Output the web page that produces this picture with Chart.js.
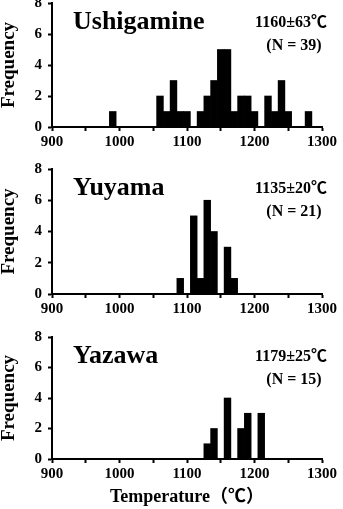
<!DOCTYPE html>
<html>
<head>
<meta charset="utf-8">
<script src="https://cdn.jsdelivr.net/npm/chart.js@4.4.1/dist/chart.umd.min.js"></script>
<style>
    html, body { margin: 0; padding: 0; background: #fff; overflow: hidden; }
    #wrap { position: relative; width: 343px; height: 509px; overflow: hidden; }
    canvas { position: absolute; left: 0; }
</style>
</head>
<body>
<div id="wrap">
    <canvas id="chartUshigamine" width="343" height="161" style="top:-12px"></canvas>
    <canvas id="chartYuyama" width="343" height="162" style="top:154px"></canvas>
    <canvas id="chartYazawa" width="343" height="187" style="top:322px"></canvas>
</div>
<script>
// ================= DATOS =================
const ushigamineBins   = [990, 1000, 1010, 1020, 1030, 1040, 1050, 1060, 1070, 1080, 1090, 1100, 1110, 1120, 1130,
                          1140, 1150, 1160, 1170, 1180, 1190, 1200, 1210, 1220, 1230, 1240, 1250, 1260, 1270, 1280];
const ushigamineCounts = [1, 0, 0, 0, 0, 0, 0, 2, 1, 3, 1, 1, 0, 1, 2,
                          3, 5, 5, 1, 2, 2, 1, 0, 2, 1, 3, 1, 0, 0, 1];

const yuyamaBins   = [1090, 1100, 1110, 1120, 1130, 1140, 1150, 1160, 1170];
const yuyamaCounts = [1, 0, 5, 1, 6, 4, 0, 3, 1];

const yazawaBins   = [1130, 1140, 1150, 1160, 1170, 1180, 1190, 1200, 1210];
const yazawaCounts = [1, 2, 0, 4, 0, 2, 3, 0, 3];

const siteNames  = ['Ushigamine', 'Yuyama', 'Yazawa'];
const siteMeans  = ['1160±63℃', '1135±20℃', '1179±25℃'];
const siteN      = ['(N = 39)', '(N = 21)', '(N = 15)'];

const xTitle = 'Temperature（℃）';
const yTitle = 'Frequency';

const SERIF = '"Liberation Serif", "Times New Roman", "Noto Sans CJK JP", serif';
let charts = {};

// ================= ETIQUETAS =================
function siteLabelPlugin(name, mean, n) {
    return {
        id: 'siteLabel',
        afterDraw(chart) {
            const { ctx, chartArea } = chart;
            ctx.save();
            ctx.fillStyle = '#000';
            ctx.font = 'bold 26px ' + SERIF;
            ctx.textAlign = 'left';
            ctx.textBaseline = 'alphabetic';
            ctx.fillText(name, chartArea.left + 21, chartArea.top + 26);

            ctx.font = 'bold 16px ' + SERIF;
            ctx.textAlign = 'center';
            ctx.textBaseline = 'middle';
            ctx.fillText(mean, 291, chartArea.top + 20);
            ctx.fillText(n, 294, chartArea.top + 43);
            ctx.restore();
        }
    };
}

// ================= HISTOGRAMA =================
function createHistogram(id, bins, counts, idx, showTitle) {
    const ctx = document.getElementById(id);
    if (!ctx) return;

    charts[id] = new Chart(ctx, {
        type: 'bar',
        data: {
            datasets: [{
                data: bins.map((b, i) => ({ x: b, y: counts[i] })),
                backgroundColor: '#000',
                borderWidth: 0,
                barPercentage: 1,
                categoryPercentage: 1
            }]
        },
        options: {
            responsive: false,
            animation: false,
            layout: { padding: { top: 12, right: 21, bottom: 0, left: 0 } },
            plugins: {
                legend: { display: false },
                tooltip: { enabled: false }
            },
            scales: {
                x: {
                    type: 'linear',
                    min: 900,
                    max: 1300,
                    offset: false,
                    grid: {
                        offset: false,
                        drawOnChartArea: false,
                        drawTicks: true,
                        tickLength: 4,
                        tickWidth: 2,
                        tickColor: '#000'
                    },
                    border: { display: true, color: '#000', width: 2 },
                    ticks: {
                        stepSize: 50,
                        autoSkip: false,
                        maxRotation: 0,
                        padding: 2,
                        color: '#000',
                        font: { family: SERIF, size: 15, weight: 'bold' },
                        callback: v => (v % 100 === 0 ? String(v) : '')
                    },
                    title: {
                        display: showTitle,
                        text: xTitle,
                        color: '#000',
                        padding: { top: 0, bottom: 1 },
                        font: { family: SERIF, size: 18, weight: 'bold' }
                    },
                    afterFit: s => { s.height = showTitle ? 50 : 22; }
                },
                y: {
                    min: 0,
                    max: 8,
                    grid: {
                        drawOnChartArea: false,
                        drawTicks: true,
                        tickLength: 4,
                        tickWidth: 2,
                        tickColor: '#000'
                    },
                    border: { display: true, color: '#000', width: 2 },
                    ticks: {
                        stepSize: 2,
                        padding: 6,
                        color: '#000',
                        font: { family: SERIF, size: 15, weight: 'bold' }
                    },
                    title: {
                        display: true,
                        text: yTitle,
                        color: '#000',
                        padding: { top: -2, bottom: 0 },
                        font: { family: SERIF, size: 19, weight: 'bold' }
                    },
                    afterFit: s => { s.width = 52; }
                }
            }
        },
        plugins: [siteLabelPlugin(siteNames[idx], siteMeans[idx], siteN[idx])]
    });
}

createHistogram('chartUshigamine', ushigamineBins, ushigamineCounts, 0, false);
createHistogram('chartYuyama', yuyamaBins, yuyamaCounts, 1, false);
createHistogram('chartYazawa', yazawaBins, yazawaCounts, 2, true);
</script>
</body>
</html>
